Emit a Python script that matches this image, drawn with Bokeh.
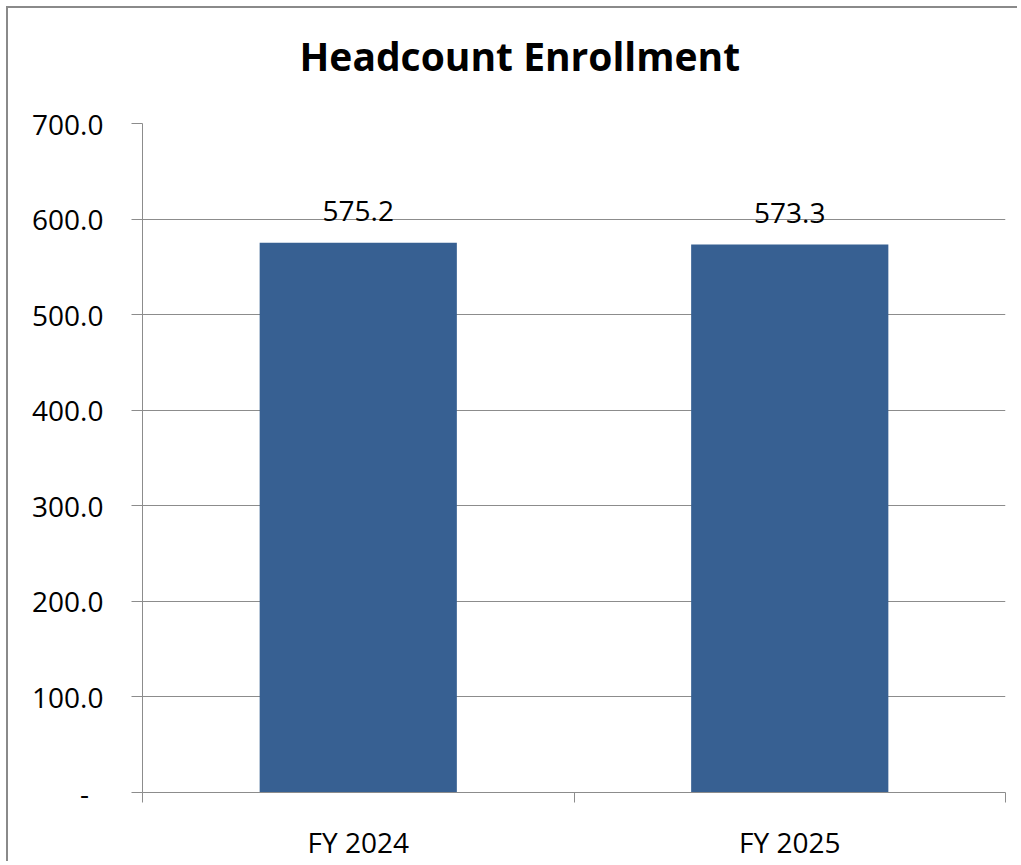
from bokeh.plotting import figure
from bokeh.models import Range1d, LinearAxis, FixedTicker, Title, ColumnDataSource
from bokeh.embed import file_html
from bokeh.resources import INLINE
from bokeh.core.properties import value

categories = ["FY 2024", "FY 2025"]
headcount = [575.2, 573.3]
y_ticks = [0, 100, 200, 300, 400, 500, 600, 700]
title_text = "Headcount Enrollment"

FONT = "Open Sans"
BAR = "#376092"
GRID = "#8c8c8c"

n = len(categories)
centers = [i + 0.5 for i in range(n)]
bounds = list(range(n + 1))
labels = [f"{v:.1f}" for v in headcount]
source = ColumnDataSource(dict(x=centers, cat=categories, val=headcount, label=labels))

p = figure(width=1011, height=855,
           x_range=Range1d(0, n),
           y_range=Range1d(0, y_ticks[-1]),
           output_backend="svg", toolbar_location=None,
           x_axis_location=None,
           min_border_left=134, min_border_right=14,
           min_border_top=115, min_border_bottom=69)
p.margin = (8, 0, 0, 8)
p.styles = {"box-shadow": "-2px -2px 0px 0px #8a8a8a"}
p.outline_line_color = None
p.background_fill_color = "white"
p.border_fill_color = "white"

p.vbar(x="x", top="val", width=0.457, source=source, fill_color=BAR, line_color=None)
p.text(x="x", y="val", text="label", source=source, y_offset=-32,
       text_align="center", text_baseline="alphabetic",
       text_font=value(FONT), text_font_size="28px", text_color="black")

# y axis
yax = p.yaxis[0]
yax.ticker = FixedTicker(ticks=y_ticks, minor_ticks=[])
yax.major_label_overrides = {t: ("-\u00a0\u00a0" if t == 0 else f"{t:.1f}") for t in y_ticks}
yax.major_tick_out = 11
yax.major_tick_in = 0
yax.minor_tick_out = 0
yax.minor_tick_in = 0
yax.axis_line_color = GRID
yax.major_tick_line_color = GRID
yax.major_label_standoff = 28
yax.major_label_text_font = FONT
yax.major_label_text_font_size = "28px"
yax.major_label_text_color = "black"

p.xgrid.visible = False
p.ygrid.grid_line_color = GRID
p.ygrid.grid_line_width = 1

# x axis: labels at category centres, ticks at category boundaries
xax = LinearAxis(ticker=FixedTicker(ticks=centers, minor_ticks=bounds),
                 major_label_overrides={c: cat for c, cat in zip(centers, categories)})
xax.major_tick_out = 0
xax.major_tick_in = 0
xax.minor_tick_out = 10
xax.minor_tick_in = 0
xax.minor_tick_line_color = GRID
xax.axis_line_color = GRID
xax.major_label_standoff = 20
xax.major_label_text_font = FONT
xax.major_label_text_font_size = "28px"
xax.major_label_text_color = "black"
p.add_layout(xax, "below")

# spacer panel between plot frame and title (closest to the frame)
spacer = Title(text=" ", text_font_size="1px", standoff=34)
p.add_layout(spacer, "above")

# chart title, shifted left so it is centred over the whole chart area
title = Title(text=title_text, align="left", offset=157, standoff=10,
              vertical_align="bottom",
              text_font=FONT, text_font_style="bold", text_font_size="39px",
              text_color="black")
p.add_layout(title, "above")

open("out.html", "w").write(file_html(p, INLINE))
